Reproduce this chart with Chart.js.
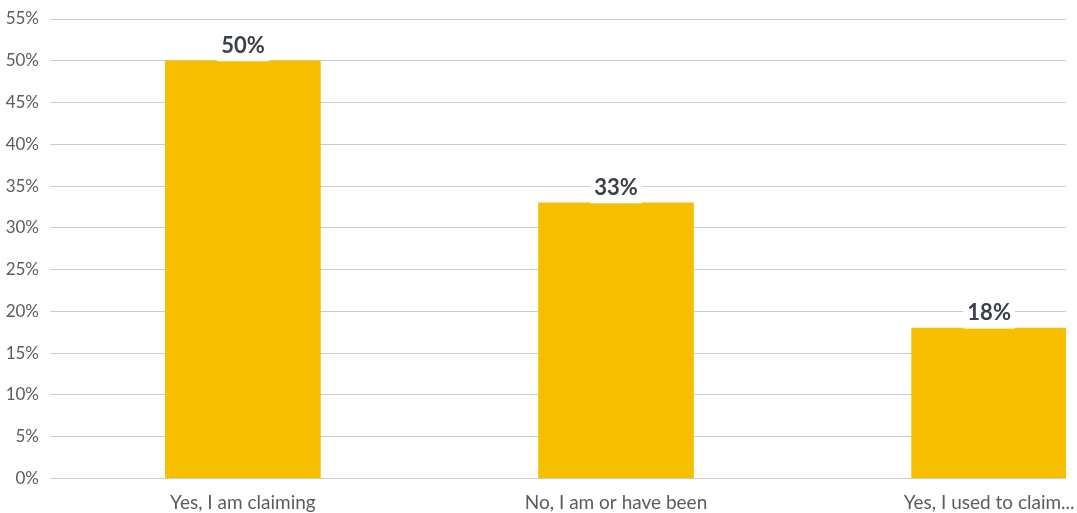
<!DOCTYPE html>
<html>
<head>
<meta charset="utf-8">
<script src="https://cdn.jsdelivr.net/npm/chart.js@4"></script>
<style>
  html, body { margin: 0; padding: 0; background: #fff; }
  #wrap { width: 1077px; height: 513px; position: relative; }
</style>
</head>
<body>
<div id="wrap"><canvas id="claimChart"></canvas></div>
<script>
const categories = ["Yes, I am claiming", "No, I am or have been", "Yes, I used to claim..."];
const shares = [50, 33, 18]; // percent of respondents
const yTicks = [0, 5, 10, 15, 20, 25, 30, 35, 40, 45, 50, 55];

const fontFamily = "Lato, 'Open Sans', sans-serif";

// Draw the percentage above each bar on a white box
const valueLabels = {
    id: "valueLabels",
    afterDatasetsDraw(chart) {
        const ctx = chart.ctx;
        const meta = chart.getDatasetMeta(0);
        ctx.save();
        ctx.font = "bold 22px " + fontFamily;
        ctx.textAlign = "center";
        ctx.textBaseline = "alphabetic";
        meta.data.forEach((bar, i) => {
            const text = shares[i] + "%";
            const w = ctx.measureText(text).width + 8;
            ctx.fillStyle = "#ffffff";
            ctx.fillRect(bar.x - w / 2, bar.y - 30, w, 30.5);
            ctx.fillStyle = "#3b4047";
            ctx.fillText(text, bar.x, bar.y - 8);
        });
        ctx.restore();
    }
};

new Chart(document.getElementById("claimChart"), {
    type: "bar",
    data: {
        datasets: [{
            data: shares.map((v, i) => ({ x: i, y: v })),
            backgroundColor: "#f7bf00",
            barThickness: 155
        }]
    },
    options: {
        responsive: true,
        maintainAspectRatio: false,
        animation: false,
        layout: { padding: { top: 19, right: 11, left: 0, bottom: 0 } },
        plugins: {
            legend: { display: false },
            tooltip: { enabled: false }
        },
        scales: {
            x: {
                type: "linear",
                offset: false,
                min: -0.517,
                max: 2.206,
                grid: { display: false },
                border: { display: false },
                afterBuildTicks: (scale) => {
                    scale.ticks = categories.map((c, i) => ({ value: i }));
                },
                afterFit: (scale) => {
                    scale.height = 34.5;
                    scale.paddingLeft = 0;
                    scale.paddingRight = 0;
                },
                ticks: {
                    autoSkip: false,
                    maxRotation: 0,
                    padding: 5,
                    color: "#595d62",
                    font: { family: fontFamily, size: 19 },
                    callback: (v) => categories[v]
                }
            },
            y: {
                min: 0,
                max: 55,
                afterBuildTicks: (scale) => {
                    scale.ticks = yTicks.map((v) => ({ value: v }));
                },
                afterFit: (scale) => {
                    scale.width = 50;
                    scale.paddingTop = 0;
                    scale.paddingBottom = 0;
                },
                grid: { color: "#c9cdd1", lineWidth: 1, drawTicks: false },
                border: { display: false },
                ticks: {
                    padding: 11,
                    color: "#595d62",
                    font: { family: fontFamily, size: 17 },
                    callback: (v) => v + "%"
                }
            }
        }
    },
    plugins: [valueLabels]
});
</script>
</body>
</html>
